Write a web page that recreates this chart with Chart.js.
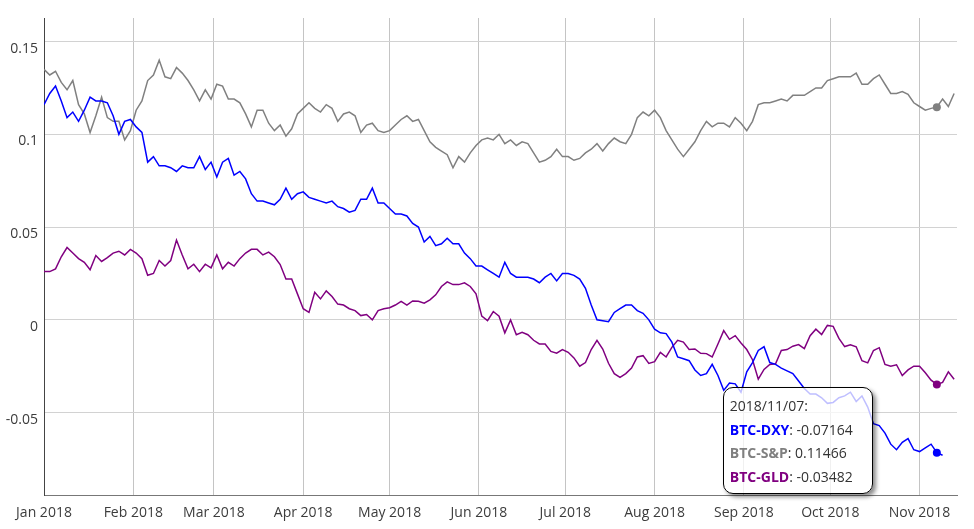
<!DOCTYPE html>
<html>
<head>
<meta charset="utf-8">
<title>BTC correlations 2018</title>
<script src="https://cdn.jsdelivr.net/npm/chart.js@4.4.1/dist/chart.umd.min.js"></script>
<style>
  html, body { margin: 0; padding: 0; background: #fff; }
  #wrap { position: relative; width: 974px; height: 529px; }
  #tip {
    position: absolute; display: none; box-sizing: border-box; width: 150px;
    padding: 6px 6px 5px 6px; background: rgba(255,255,255,0.75);
    border: 1px solid #000; border-radius: 10px;
    box-shadow: 3px 3px 4px rgba(0,0,0,0.45);
    font: 14px 'Open Sans', sans-serif; line-height: 23.5px; color: #333;
    white-space: nowrap; pointer-events: none;
  }
  #tip b { font-weight: 700; }
</style>
</head>
<body>
<div id="wrap">
  <canvas id="corrChart"></canvas>
  <div id="tip"></div>
</div>
<script>
// Serie cada 2 dias desde 2018/01/01
const startDate = new Date(2018, 0, 1);
const stepDays = 2;

// Correlacion BTC vs DXY (termina antes que las otras)
const btcDxy = [
  0.116, 0.122, 0.126, 0.118, 0.109, 0.112, 0.107, 0.113, 0.120, 0.118,
  0.118, 0.117, 0.110, 0.100, 0.107, 0.108, 0.104, 0.101, 0.085, 0.088,
  0.083, 0.083, 0.082, 0.080, 0.083, 0.082, 0.082, 0.088, 0.081, 0.085,
  0.077, 0.085, 0.087, 0.078, 0.080, 0.076, 0.068, 0.064, 0.064, 0.063,
  0.062, 0.065, 0.071, 0.065, 0.068, 0.069, 0.066, 0.065, 0.064, 0.063,
  0.064, 0.061, 0.060, 0.058, 0.059, 0.065, 0.065, 0.071, 0.063, 0.063,
  0.060, 0.057, 0.057, 0.056, 0.052, 0.050, 0.042, 0.045, 0.040, 0.041,
  0.044, 0.041, 0.041, 0.036, 0.033, 0.029, 0.029, 0.027, 0.025, 0.023,
  0.031, 0.025, 0.023, 0.023, 0.023, 0.022, 0.020, 0.023, 0.025, 0.021,
  0.025, 0.025, 0.024, 0.022, 0.017, 0.008, 0.000, -0.0005, -0.001, 0.004,
  0.006, 0.008, 0.008, 0.005, 0.0035, 0.000, -0.005, -0.007, -0.0074, -0.012,
  -0.020, -0.021, -0.022, -0.027, -0.030, -0.029, -0.024, -0.030, -0.038, -0.034,
  -0.0345, -0.039, -0.028, -0.023, -0.0165, -0.0145, -0.023, -0.024, -0.026, -0.0275,
  -0.029, -0.033, -0.037, -0.040, -0.040, -0.042, -0.045, -0.0445, -0.042, -0.041,
  -0.039, -0.044, -0.041, -0.047, -0.056, -0.057, -0.061, -0.067, -0.070, -0.066,
  -0.064, -0.070, -0.071, -0.069, -0.067, -0.07164, -0.073, null, null
];

// Correlacion BTC vs S&P 500
const btcSp = [
  0.135, 0.132, 0.134, 0.128, 0.124, 0.129, 0.116, 0.111, 0.101, 0.110,
  0.120, 0.109, 0.107, 0.107, 0.097, 0.102, 0.113, 0.118, 0.129, 0.132,
  0.140, 0.131, 0.130, 0.136, 0.133, 0.129, 0.124, 0.118, 0.124, 0.119,
  0.127, 0.126, 0.119, 0.119, 0.117, 0.111, 0.104, 0.113, 0.113, 0.106,
  0.102, 0.105, 0.099, 0.103, 0.111, 0.114, 0.117, 0.114, 0.112, 0.116,
  0.114, 0.107, 0.111, 0.112, 0.110, 0.101, 0.105, 0.106, 0.102, 0.101,
  0.102, 0.105, 0.108, 0.110, 0.107, 0.108, 0.102, 0.096, 0.093, 0.091,
  0.089, 0.082, 0.088, 0.085, 0.090, 0.094, 0.097, 0.098, 0.097, 0.100,
  0.095, 0.097, 0.094, 0.096, 0.095, 0.090, 0.085, 0.086, 0.088, 0.092,
  0.088, 0.088, 0.086, 0.087, 0.090, 0.092, 0.095, 0.091, 0.095, 0.098,
  0.096, 0.095, 0.100, 0.109, 0.112, 0.110, 0.113, 0.109, 0.102, 0.097,
  0.092, 0.088, 0.092, 0.096, 0.102, 0.107, 0.104, 0.106, 0.106, 0.104,
  0.109, 0.106, 0.102, 0.107, 0.116, 0.117, 0.117, 0.118, 0.119, 0.118,
  0.121, 0.121, 0.121, 0.123, 0.125, 0.125, 0.129, 0.130, 0.131, 0.131,
  0.131, 0.133, 0.127, 0.127, 0.130, 0.132, 0.127, 0.122, 0.122, 0.123,
  0.1215, 0.117, 0.115, 0.113, 0.114, 0.11466, 0.119, 0.115, 0.122
];

// Correlacion BTC vs oro (GLD)
const btcGld = [
  0.026, 0.026, 0.0275, 0.034, 0.039, 0.036, 0.033, 0.031, 0.027, 0.0347,
  0.0315, 0.0335, 0.036, 0.037, 0.035, 0.038, 0.036, 0.033, 0.024, 0.025,
  0.032, 0.029, 0.032, 0.043, 0.035, 0.0275, 0.030, 0.026, 0.030, 0.028,
  0.035, 0.0275, 0.031, 0.029, 0.033, 0.036, 0.038, 0.038, 0.035, 0.0365,
  0.034, 0.0298, 0.022, 0.022, 0.014, 0.006, 0.004, 0.0149, 0.0113, 0.0156,
  0.0126, 0.0085, 0.008, 0.006, 0.005, 0.0023, 0.0029, 0.000, 0.005, 0.006,
  0.0065, 0.008, 0.010, 0.008, 0.0102, 0.010, 0.009, 0.0108, 0.0135, 0.018,
  0.0205, 0.019, 0.019, 0.020, 0.018, 0.014, 0.002, -0.0004, 0.0045, 0.002,
  -0.007, 0.000, -0.008, -0.0067, -0.008, -0.011, -0.013, -0.013, -0.017, -0.018,
  -0.016, -0.0175, -0.0205, -0.025, -0.023, -0.016, -0.011, -0.0157, -0.0234, -0.029,
  -0.031, -0.029, -0.026, -0.020, -0.0193, -0.0235, -0.0225, -0.0175, -0.020, -0.0148,
  -0.011, -0.012, -0.016, -0.0157, -0.018, -0.0182, -0.020, -0.013, -0.0058, -0.0105,
  -0.0085, -0.0125, -0.016, -0.0215, -0.032, -0.0267, -0.024, -0.0237, -0.0165, -0.016,
  -0.0142, -0.0133, -0.0155, -0.0085, -0.005, -0.0079, -0.003, -0.0035, -0.010, -0.0144,
  -0.0134, -0.0145, -0.022, -0.0232, -0.0165, -0.015, -0.024, -0.025, -0.0242, -0.030,
  -0.027, -0.025, -0.025, -0.0285, -0.0325, -0.03482, -0.0337, -0.028, -0.032
];

// Ticks del eje X (dia del anio en que empieza cada mes) y del eje Y
const monthDays = [0, 31, 59, 90, 120, 151, 181, 212, 243, 273, 304];
const monthLabels = ['Jan 2018', 'Feb 2018', 'Mar 2018', 'Apr 2018', 'May 2018', 'Jun 2018',
  'Jul 2018', 'Aug 2018', 'Sep 2018', 'Oct 2018', 'Nov 2018'];
const yTicks = [-0.05, 0, 0.05, 0.1, 0.15];
const hoverDate = '2018/11/07';

const seriesNames = ['BTC-DXY', 'BTC-S&P', 'BTC-GLD'];
const seriesColors = ['#0000ff', '#808080', '#800080'];

// Fechas en formato yyyy/mm/dd
const dates = btcSp.map((_, i) => {
  const d = new Date(startDate);
  d.setDate(d.getDate() + i * stepDays);
  const mm = String(d.getMonth() + 1).padStart(2, '0');
  const dd = String(d.getDate()).padStart(2, '0');
  return d.getFullYear() + '/' + mm + '/' + dd;
});

function toPoints(values) {
  return values.map((v, i) => ({ x: i * stepDays, y: v }));
}

// Tooltip en HTML para poder mezclar colores y negritas
function externalTip(context) {
  const tip = document.getElementById('tip');
  const model = context.tooltip;
  if (model.opacity === 0) { tip.style.display = 'none'; return; }
  const pts = model.dataPoints;
  let html = dates[pts[0].dataIndex] + ':';
  pts.forEach(p => {
    html += '<br><b style="color:' + seriesColors[p.datasetIndex] + '">' +
      seriesNames[p.datasetIndex] + '</b>: ' + p.raw.y;
  });
  tip.innerHTML = html;
  const area = context.chart.chartArea;
  tip.style.display = 'block';
  tip.style.left = (model.caretX - 214) + 'px';
  tip.style.top = (area.bottom - 108) + 'px';
}

Chart.defaults.font.family = "'Open Sans', sans-serif";
Chart.defaults.font.size = 14;
Chart.defaults.color = '#3c3c3c';

const ctx = document.getElementById('corrChart').getContext('2d');
const chart = new Chart(ctx, {
  type: 'line',
  data: {
    datasets: [btcDxy, btcSp, btcGld].map((vals, i) => ({
      label: seriesNames[i],
      data: toPoints(vals),
      borderColor: seriesColors[i],
      backgroundColor: seriesColors[i],
      borderWidth: 1.5,
      pointRadius: 0,
      pointHoverRadius: 4,
      pointHoverBorderWidth: 0,
      pointHoverBackgroundColor: seriesColors[i],
      tension: 0,
      spanGaps: false
    }))
  },
  options: {
    responsive: true,
    maintainAspectRatio: false,
    animation: false,
    layout: { padding: { top: 18, right: 17, left: 0, bottom: 0 } },
    interaction: { mode: 'index', intersect: false },
    plugins: {
      legend: { display: false },
      tooltip: { enabled: false, external: externalTip }
    },
    scales: {
      x: {
        type: 'linear',
        min: 0,
        max: 317,
        afterBuildTicks: s => { s.ticks = monthDays.map(v => ({ value: v })); },
        afterFit: s => { s.height = 34; },
        ticks: {
          autoSkip: false,
          maxRotation: 0,
          padding: 10,
          callback: v => monthLabels[monthDays.indexOf(v)]
        },
        grid: { color: '#c4c4c4', drawTicks: false },
        border: { color: '#777', width: 1 }
      },
      y: {
        min: -0.0944,
        max: 0.1627,
        afterBuildTicks: s => { s.ticks = yTicks.map(v => ({ value: v })); },
        afterFit: s => { s.width = 44; },
        ticks: {
          padding: 6,
          labelOffset: 7,
          callback: v => String(v)
        },
        grid: { color: '#d2d2d2', drawTicks: false },
        border: { color: '#444', width: 1 }
      }
    }
  }
});

// Resaltar el punto del 2018/11/07 como en la captura
const idx = dates.indexOf(hoverDate);
const active = [0, 1, 2].map(d => ({ datasetIndex: d, index: idx }));
chart.setActiveElements(active);
chart.tooltip.setActiveElements(active, { x: 0, y: 0 });
chart.update();
</script>
</body>
</html>
